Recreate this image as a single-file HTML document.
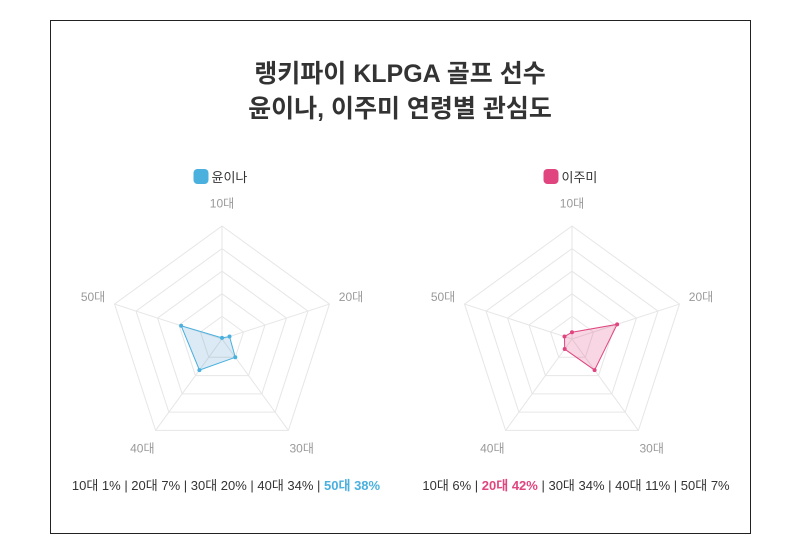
<!DOCTYPE html>
<html><head><meta charset="utf-8"><style>
body{margin:0;background:#fff;font-family:"Liberation Sans","Noto Sans CJK KR",sans-serif;}
#frame{position:absolute;left:50px;top:20px;width:699px;height:512px;border:1px solid #222;}
.title{position:absolute;left:0;width:800px;text-align:center;font-size:25px;font-weight:bold;color:#333;}
.stats{position:absolute;top:475px;font-size:13px;color:#333;width:360px;text-align:center;}
</style></head><body>
<div id="frame"></div>
<div class="title" style="top:54px">랭키파이 KLPGA 골프 선수</div>
<div class="title" style="top:89px">윤이나, 이주미 연령별 관심도</div>
<svg id="svg" width="800" height="554" style="position:absolute;left:0;top:0"></svg>
<div class="stats" style="left:46px">10대 1% | 20대 7% | 30대 20% | 40대 34% | <b style="color:#4ab0de">50대 38%</b></div>
<div class="stats" style="left:396px">10대 6% | <b style="color:#e0457f">20대 42%</b> | 30대 34% | 40대 11% | 50대 7%</div>
<script>
const categories=["10대","20대","30대","40대","50대"];
const yoonValues=[1,7,20,34,38];
const leeValues=[6,42,34,11,7];
const maxValue=100;
const svg=document.getElementById('svg');
const NS='http://www.w3.org/2000/svg';
function mk(t,a){const e=document.createElementNS(NS,t);for(const k in a)e.setAttribute(k,a[k]);svg.appendChild(e);return e;}
const R=113,cy=339;
function pt(cx,i,v){const a=-Math.PI/2+i*2*Math.PI/5;const r=v/maxValue*R;return [cx+r*Math.cos(a),cy+r*Math.sin(a)];}
function radar(cx,vals,color,fill,name,key){
  for(let k=1;k<=5;k++){
    const p=categories.map((c,i)=>pt(cx,i,maxValue*k/5).join(',')).join(' ');
    const g=mk('polygon',{points:p,fill:'none',stroke:'#e6e6e6','stroke-width':1});
    
    
  }
  categories.forEach((c,i)=>{
    const e=pt(cx,i,maxValue);
    const l=mk('line',{x1:cx,y1:cy,x2:e[0],y2:e[1],stroke:'#e6e6e6'});
    
    
    const lp=pt(cx,i,maxValue*1.2);
    const t=mk('text',{x:lp[0],y:lp[1]+4,'text-anchor':'middle','font-size':12,fill:'#999'});
    t.textContent=c;
    
    
  });
  const pts=vals.map((v,i)=>pt(cx,i,v));
  const poly=mk('polygon',{points:pts.map(p=>p.join(',')).join(' '),fill:fill,stroke:color,'stroke-width':1});
  
  
  pts.forEach(p=>{const c=mk('circle',{cx:p[0],cy:p[1],r:2,fill:color});
    
    });
  const lx=cx-(name.length*13+18)/2;
  const r=mk('rect',{x:lx,y:169,width:15,height:15,rx:4,fill:color});
  
  
  const t=mk('text',{x:lx+18,y:182,'font-size':13,fill:'#333'});
  t.textContent=name;
  
  
}
radar(222,yoonValues,'#4ab0de','rgba(74,150,200,0.2)','윤이나','yoon');
radar(572,leeValues,'#e0457f','rgba(224,69,127,0.22)','이주미','lee');
</script>
</body></html>
